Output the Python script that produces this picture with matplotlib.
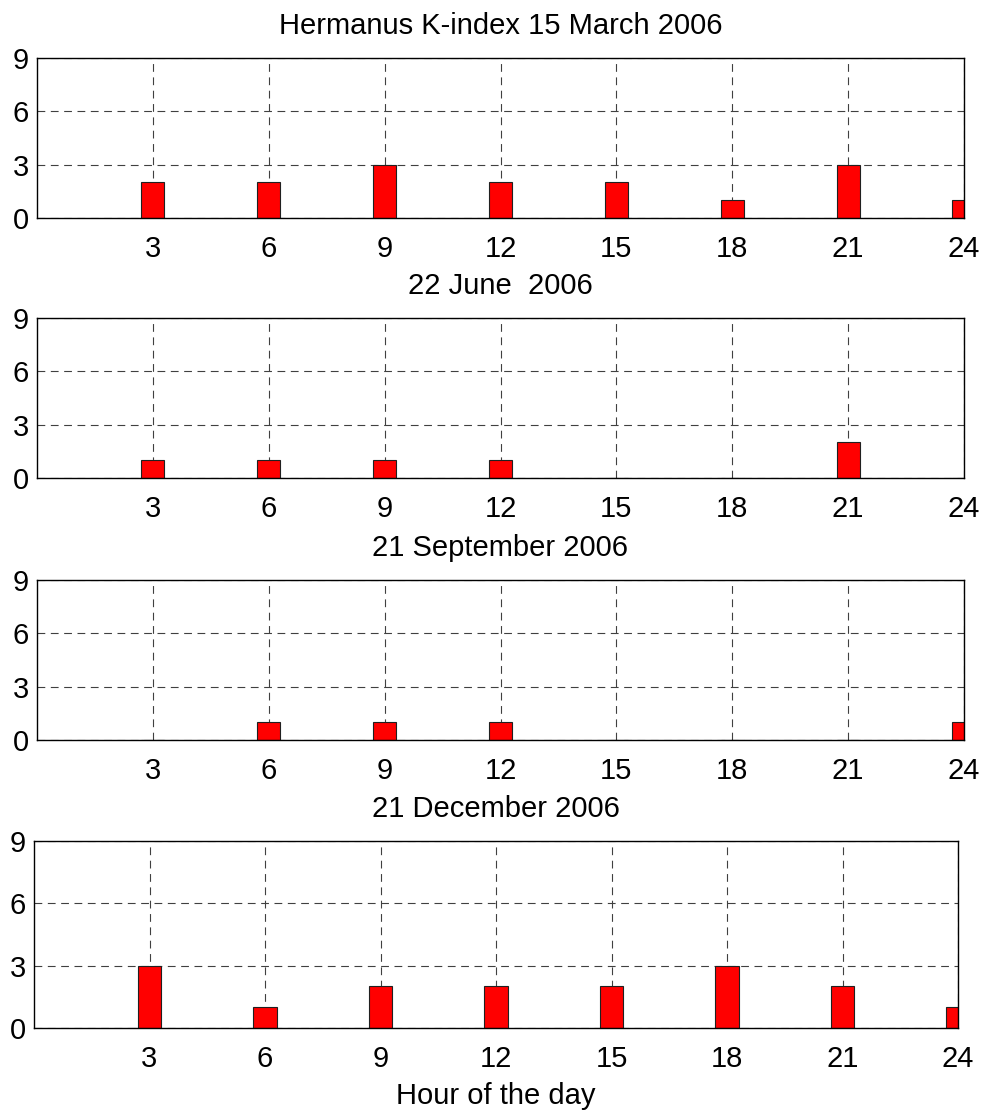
import numpy as np
import matplotlib
matplotlib.use("Agg")
from matplotlib import pyplot as plt

plt.rcParams['font.family'] = ['Liberation Sans', 'DejaVu Sans']
plt.rcParams['font.size'] = 21

hours = [3, 6, 9, 12, 15, 18, 21, 24]
k_march = [2, 2, 3, 2, 2, 1, 3, 1]
k_june = [1, 1, 1, 1, 0, 0, 2, 0]
k_sept = [0, 1, 1, 1, 0, 0, 0, 1]
k_dec = [3, 1, 2, 2, 2, 3, 2, 1]

titles = ["Hermanus K-index 15 March 2006", "22 June  2006",
          "21 September 2006", "21 December 2006"]
series = [k_march, k_june, k_sept, k_dec]

W, H = 985, 1115
# axes boxes in pixels: left, top, right, bottom
boxes = [(37, 58, 964, 218),
         (37, 318, 964, 478),
         (37, 580, 964, 740),
         (34, 841, 958, 1028)]

fig = plt.figure(figsize=(W / 100, H / 100), dpi=100)

for i, (box, k, t) in enumerate(zip(boxes, series, titles)):
    l, tp, r, b = box
    ax = fig.add_axes([l / W, 1 - b / H, (r - l) / W, (b - tp) / H])
    ax.bar(hours, k, width=0.6, color='#ff0000', edgecolor='#202020',
           linewidth=0.8, zorder=3)
    ax.set_xlim(0, 24)
    ax.set_ylim(0, 9)
    ax.set_xticks(hours)
    ax.set_yticks([0, 3, 6, 9])
    ax.grid(True, linestyle=(0, (7, 5)), color='#404040', linewidth=0.8)
    ax.tick_params(length=0, pad=12)
    ax.tick_params(axis='y', pad=6)
    for s in ax.spines.values():
        s.set_linewidth(1.0)
        s.set_zorder(4)
    ax.set_title(t, fontsize=21, pad=17)
    if i == 3:
        ax.set_xlabel("Hour of the day", fontsize=21, labelpad=7)

fig.savefig("out.png", dpi=100, facecolor='white')
